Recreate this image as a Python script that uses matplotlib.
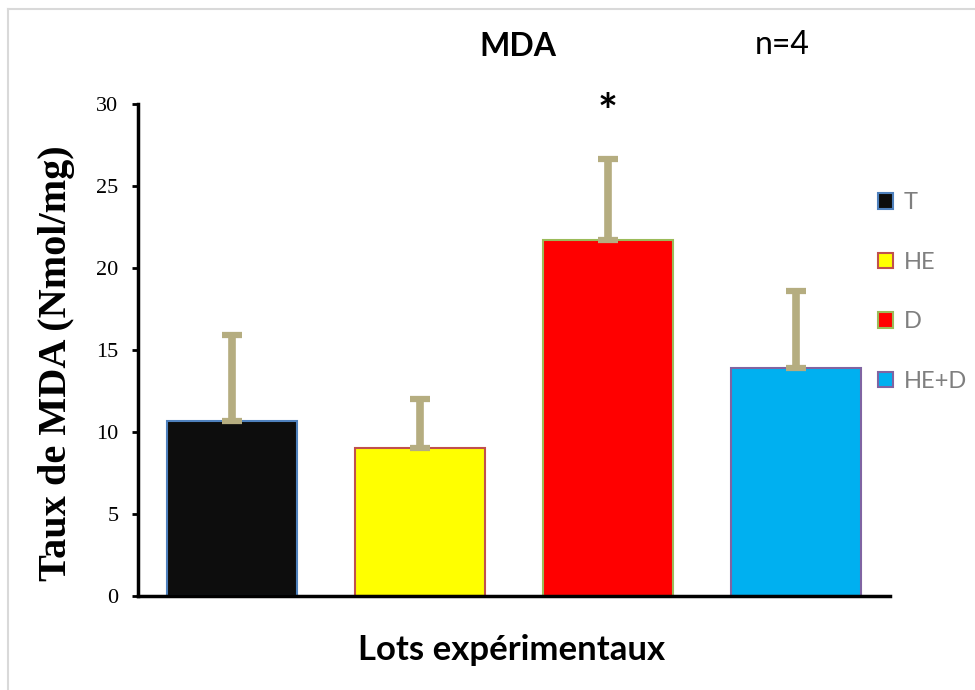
import matplotlib
matplotlib.use("Agg")
import matplotlib.pyplot as plt
from matplotlib.patches import Patch
from matplotlib.lines import Line2D

categories = ["T", "HE", "D", "HE+D"]
means = [10.7, 9.0, 21.7, 13.9]
errors = [5.2, 3.0, 4.95, 4.7]
bar_colors = ["#0d0d0d", "#ffff00", "#ff0000", "#00b0f0"]
edge_colors = ["#4f81bd", "#c0504d", "#9bbb59", "#8064a2"]
yticks = [0, 5, 10, 15, 20, 25, 30]

fig = plt.figure(figsize=(9.75, 6.9), dpi=100)
ax = fig.add_axes([138/975, 1-596/690, (890-138)/975, (596-104)/690])

x = list(range(len(categories)))
ax.bar(x, means, width=0.69, color=bar_colors, edgecolor=edge_colors, linewidth=1.5, zorder=2)
ax.errorbar(x, means, yerr=[[0]*len(errors), errors], fmt="none", ecolor="#b5ad80",
            elinewidth=5.5, capsize=7.5, capthick=4.5, zorder=3)

ax.set_xlim(-0.5, 3.5)
ax.set_ylim(0, 30)
ax.set_yticks(yticks)
ax.set_yticklabels([str(v) for v in yticks], fontfamily="Liberation Serif", fontsize=16)
ax.set_xticks([])
for s in ["top", "right"]:
    ax.spines[s].set_visible(False)
ax.spines["left"].set_linewidth(2.5)
ax.spines["bottom"].set_linewidth(2.5)
ax.tick_params(axis="y", length=4, width=2, pad=10)

ax.set_ylabel("Taux de MDA (Nmol/mg)", fontfamily="Liberation Serif", fontweight="bold",
              fontsize=29)
ax.yaxis.set_label_coords((75-138)/752, (596-363)/492)

fig.text(518/975, 1-47/690, "MDA", ha="center", va="center", fontfamily="Lato",
         fontweight="bold", fontsize=23)
fig.text(782/975, 1-45/690, "n=4", ha="center", va="center", fontfamily="Lato", fontsize=23)
ax.text(2, 29.4, "*", ha="center", va="center", fontfamily="Lato", fontweight="bold", fontsize=34)
fig.text(512/975, 1-650/690, "Lots expérimentaux", ha="center", va="center", fontfamily="Lato",
         fontweight="bold", fontsize=25)

handles = [Patch(facecolor=c, edgecolor=e, linewidth=1.5) for c, e in zip(bar_colors, edge_colors)]
leg = fig.legend(handles, categories, loc="upper left", bbox_to_anchor=(869/975, 1-183/690),
                 frameon=False, prop={"family": "Lato", "size": 17}, labelspacing=1.63,
                 handlelength=0.62, handleheight=0.62, handletextpad=0.45, borderaxespad=0)
for t in leg.get_texts():
    t.set_color("#7f7f7f")

fig.add_artist(Line2D([8/975, 8/975], [0, 1-9/690], color="#d9d9d9", lw=1.5, transform=fig.transFigure))
fig.add_artist(Line2D([8/975, 1], [1-9/690, 1-9/690], color="#d9d9d9", lw=1.5, transform=fig.transFigure))

fig.savefig("out.png", dpi=100)
